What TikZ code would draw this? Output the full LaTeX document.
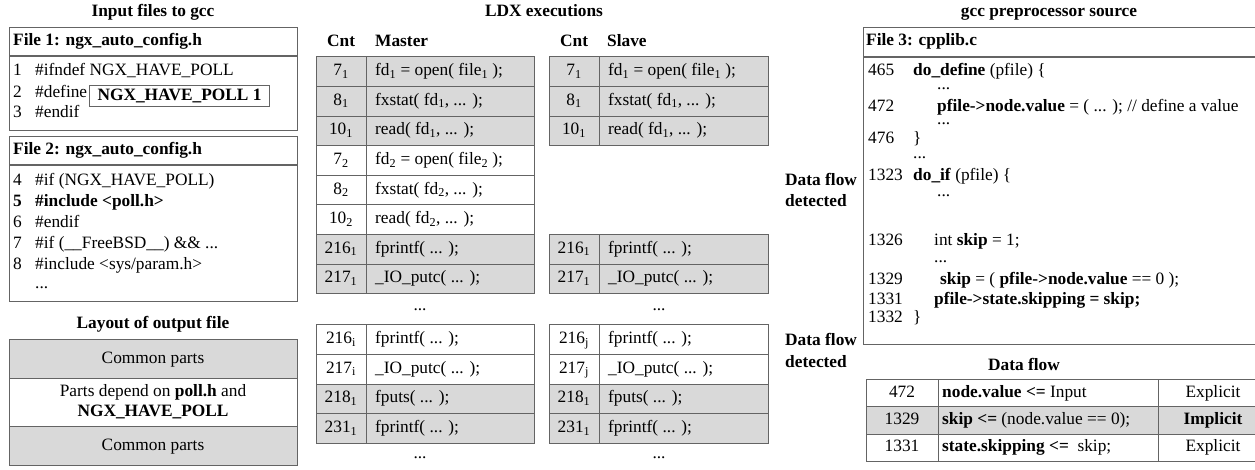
\documentclass[tikz,border=0pt]{standalone}
\usepackage{fontspec}
\setmainfont{Liberation Serif}
\definecolor{bdcol}{RGB}{100,100,100}
\definecolor{cellgray}{RGB}{217,217,217}
\newcommand\fs{\fontsize{17.4}{20}\selectfont}
\newcommand\ssub[1]{\textsubscript{#1}}
% #1 name, #2 xl, #3 xs, #4 xr, #5 yt, #6 fill, #7 cnt, #8 code
\newcommand\trow[8]{%
  \draw[bd, fill=#6] (#2,#5) rectangle (#4,#5+29.6);
  \draw[bd] (#3,#5) -- (#3,#5+29.6);
  \node[ctr] (#1c) at ({(#2+#3)/2},#5+14.8) {#7};
  \node[txt] (#1t) at (#3+9,#5+14.8) {#8};
}
\begin{document}
\begin{tikzpicture}[x=1bp,y=-1bp,
  every node/.style={inner sep=0pt, font=\fs},
  bd/.style={draw=bdcol, line width=1bp},
  hd/.style={draw=bdcol, line width=1.8bp},
  txt/.style={anchor=west, text height=12bp, text depth=4bp},
  ctr/.style={anchor=center, text height=12bp, text depth=4bp},
  dotsl/.style={anchor=base west, text height=2bp, text depth=0bp},
  dotsc/.style={anchor=base, text height=2bp, text depth=0bp},
  ttl/.style={anchor=center, text height=12bp, text depth=4bp, font=\fs\bfseries}]
\useasboundingbox (0,0) rectangle (1255,470);
\clip (0,0) rectangle (1255,470);

% ---------- left column ----------
\node[ttl] (t1) at (153,13) {Input files to gcc};
\draw[bd] (9,28) rectangle (297,131);
\draw[hd] (9,56) -- (297,56);
\node[txt, font=\fs\bfseries] (f1h) at (13,42) {File 1: ngx\_auto\_config.h};
\node[txt] (l1n) at (13,72) {1};
\node[txt] (l1c) at (35,72) {\#ifndef NGX\_HAVE\_POLL};
\node[txt] (l2n) at (13,94) {2};
\node[txt] (l2c) at (35,94) {\#define};
\node[draw=bdcol, line width=1bp, anchor=west, minimum width=180bp, minimum height=21bp, text height=12bp, text depth=4bp, font=\fs\bfseries] (npoll) at (89,96.5) {NGX\_HAVE\_POLL 1};
\node[txt] (l3n) at (13,114) {3};
\node[txt] (l3c) at (35,114) {\#endif};

\draw[bd] (9,137) rectangle (297,302);
\draw[hd] (9,165) -- (297,165);
\node[txt, font=\fs\bfseries] (f2h) at (13,151) {File 2: ngx\_auto\_config.h};
\node[txt] (l4n) at (13,182) {4};
\node[txt] (l4c) at (35,182) {\#if (NGX\_HAVE\_POLL)};
\node[txt, font=\fs\bfseries] (l5n) at (13,203) {5};
\node[txt, font=\fs\bfseries] (l5c) at (35,203) {\#include <poll.h>};
\node[txt] (l6n) at (13,224) {6};
\node[txt] (l6c) at (35,224) {\#endif};
\node[txt] (l7n) at (13,245) {7};
\node[txt] (l7c) at (35,245) {\#if (\_\_FreeBSD\_\_) \&\& ...};
\node[txt] (l8n) at (13,266) {8};
\node[txt] (l8c) at (35,266) {\#include <sys/param.h>};
\node[dotsl] (l9c) at (35,289) {...};

\node[ttl] (t2) at (153,325) {Layout of output file};
\draw[bd, fill=cellgray] (9,340) rectangle (297,379);
\draw[bd, fill=white] (9,379) rectangle (297,427);
\draw[bd, fill=cellgray] (9,427) rectangle (297,466);
\node[ctr] (lo1) at (153,360) {Common parts};
\node[ctr] (lo2) at (153,393) {Parts depend on \textbf{poll.h} and};
\node[ctr, font=\fs\bfseries] (lo3) at (153,413) {NGX\_HAVE\_POLL};
\node[ctr] (lo4) at (153,447) {Common parts};

% ---------- middle ----------
\node[ttl] (t3) at (544,13) {LDX executions};
\node[txt, font=\fs\bfseries] (mh1) at (327,43) {Cnt};
\node[txt, font=\fs\bfseries] (mh2) at (375,43) {Master};
\node[txt, font=\fs\bfseries] (sh1) at (560,43) {Cnt};
\node[txt, font=\fs\bfseries] (sh2) at (607,43) {Slave};

\trow{ma}{316}{366}{534}{57}{cellgray}{7\ssub{1}}{fd\ssub{1} = open( file\ssub{1} );}
\trow{mb}{316}{366}{534}{86.6}{cellgray}{8\ssub{1}}{fxstat( fd\ssub{1}, ... );}
\trow{mc}{316}{366}{534}{116.2}{cellgray}{10\ssub{1}}{read( fd\ssub{1}, ... );}
\trow{md}{316}{366}{534}{145.8}{white}{7\ssub{2}}{fd\ssub{2} = open( file\ssub{2} );}
\trow{me}{316}{366}{534}{175.4}{white}{8\ssub{2}}{fxstat( fd\ssub{2}, ... );}
\trow{mf}{316}{366}{534}{205}{white}{10\ssub{2}}{read( fd\ssub{2}, ... );}
\trow{mg}{316}{366}{534}{234.6}{cellgray}{216\ssub{1}}{fprintf( ... );}
\trow{mh}{316}{366}{534}{264.2}{cellgray}{217\ssub{1}}{\_IO\_putc( ... );}
\node[dotsc] (mdots1) at (420,311) {...};
\trow{mi}{316}{366}{534}{325}{white}{216\ssub{i}}{fprintf( ... );}
\trow{mj}{316}{366}{534}{354.6}{white}{217\ssub{i}}{\_IO\_putc( ... );}
\trow{mk}{316}{366}{534}{384.2}{cellgray}{218\ssub{1}}{fputs( ... );}
\trow{ml}{316}{366}{534}{413.8}{cellgray}{231\ssub{1}}{fprintf( ... );}
\node[dotsc] (mdots2) at (420,459) {...};

\trow{sa}{549}{599}{768}{57}{cellgray}{7\ssub{1}}{fd\ssub{1} = open( file\ssub{1} );}
\trow{sb}{549}{599}{768}{86.6}{cellgray}{8\ssub{1}}{fxstat( fd\ssub{1}, ... );}
\trow{sc}{549}{599}{768}{116.2}{cellgray}{10\ssub{1}}{read( fd\ssub{1}, ... );}
\trow{sg}{549}{599}{768}{234.6}{cellgray}{216\ssub{1}}{fprintf( ... );}
\trow{sh}{549}{599}{768}{264.2}{cellgray}{217\ssub{1}}{\_IO\_putc( ... );}
\node[dotsc] (sdots1) at (659,311) {...};
\trow{si}{549}{599}{768}{325}{white}{216\ssub{j}}{fprintf( ... );}
\trow{sj}{549}{599}{768}{354.6}{white}{217\ssub{j}}{\_IO\_putc( ... );}
\trow{sk}{549}{599}{768}{384.2}{cellgray}{218\ssub{1}}{fputs( ... );}
\trow{sl}{549}{599}{768}{413.8}{cellgray}{231\ssub{1}}{fprintf( ... );}
\node[dotsc] (sdots2) at (659,459) {...};

\node[txt, font=\fs\bfseries] (dfa1) at (785,182) {Data flow};
\node[txt, font=\fs\bfseries] (dfa2) at (785,203) {detected};
\node[txt, font=\fs\bfseries] (dfb1) at (785,342) {Data flow};
\node[txt, font=\fs\bfseries] (dfb2) at (785,364) {detected};

% ---------- right ----------
\node[ttl] (t4) at (1049,13) {gcc preprocessor source};
\draw[bd] (863,28) rectangle (1268,345);
\draw[hd] (863,57) -- (1268,57);
\node[txt, font=\fs\bfseries] (f3h) at (866,42) {File 3: cpplib.c};
\node[txt] (c1n) at (868,72) {465};
\node[txt] (c1c) at (913,72) {\textbf{do\_define} (pfile) \{};
\node[dotsl] (c2c) at (937,90) {...};
\node[txt] (c3n) at (868,108) {472};
\node[txt] (c3c) at (937,108) {\textbf{pfile->node.value} = ( ... ); // define a value};
\node[dotsl] (c4c) at (937,125) {...};
\node[txt] (c5n) at (868,140) {476};
\node[txt] (c5c) at (913,140) {\}};
\node[dotsl] (c6c) at (913,159) {...};
\node[txt] (c7n) at (868,177) {1323};
\node[txt] (c7c) at (913,177) {\textbf{do\_if} (pfile) \{};
\node[dotsl] (c8c) at (937,197) {...};
\node[txt] (c9n) at (868,242) {1326};
\node[txt] (c9c) at (934,242) {int \textbf{skip} = 1;};
\node[dotsl] (c10c) at (934,263) {...};
\node[txt] (c11n) at (868,281) {1329};
\node[txt] (c11c) at (940,281) {\textbf{skip} = ( \textbf{pfile->node.value} == 0 );};
\node[txt] (c12n) at (868,301) {1331};
\node[txt, font=\fs\bfseries] (c12c) at (934,301) {pfile->state.skipping = skip;};
\node[txt] (c13n) at (868,319) {1332};
\node[txt] (c13c) at (913,319) {\}};

\node[ttl] (t5) at (1024,367) {Data flow};
\draw[bd] (866,380) rectangle (1268,407);
\draw[bd, fill=cellgray] (866,407) rectangle (1268,434.5);
\draw[bd] (866,434.5) rectangle (1268,462);
\draw[bd] (938,380) -- (938,462);
\draw[bd] (1158,380) -- (1158,462);
\node[ctr] (d1a) at (902,393.5) {472};
\node[txt] (d1b) at (942,393.5) {\textbf{node.value <=} Input};
\node[ctr] (d1c) at (1213,393.5) {Explicit};
\node[ctr] (d2a) at (902,421) {1329};
\node[txt] (d2b) at (942,421) {\textbf{skip <=} (node.value == 0);};
\node[ctr, font=\fs\bfseries] (d2c) at (1213,421) {Implicit};
\node[ctr] (d3a) at (902,448) {1331};
\node[txt] (d3b) at (942,448) {\textbf{state.skipping <=}\ \ skip;};
\node[ctr] (d3c) at (1213,448) {Explicit};
\end{tikzpicture}
\end{document}
